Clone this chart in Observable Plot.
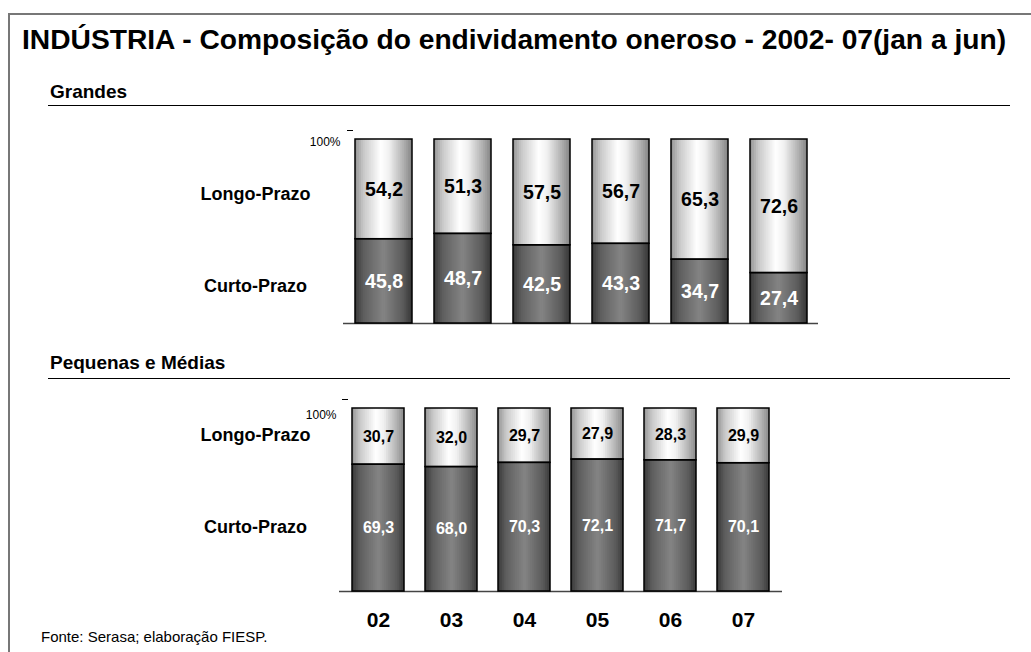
<!DOCTYPE html>
<html><head><meta charset="utf-8">
<script src="https://cdn.jsdelivr.net/npm/d3@7"></script>
<script src="https://cdn.jsdelivr.net/npm/@observablehq/plot@0.6"></script>
<style>
body{margin:0;background:#fff;font-family:"Liberation Sans",Arial,sans-serif;color:#000;}
#page{position:relative;width:1031px;height:652px;overflow:hidden;background:#fff;}
.abs{position:absolute;white-space:nowrap;line-height:1;}
.plot{position:absolute;left:0;}
</style></head><body>
<div id="page">
  <div class="abs" style="left:8px;top:13px;width:1100px;height:700px;border-top:2px solid #777;border-left:2px solid #777;"></div>
  <div class="abs" style="left:22px;top:25px;font-size:28.2px;font-weight:bold;">INDÚSTRIA - Composição do endividamento oneroso - 2002- 07(jan a jun)</div>
  <div class="abs" style="left:50px;top:82px;font-size:19px;font-weight:bold;">Grandes</div>
  <div class="abs" style="left:48px;top:105px;width:962px;height:1px;background:#000;"></div>
  <div class="abs" style="left:50px;top:353px;font-size:19px;font-weight:bold;">Pequenas e Médias</div>
  <div class="abs" style="left:48px;top:378px;width:962px;height:1px;background:#000;"></div>
  <div class="abs" style="left:41px;top:629px;font-size:15px;">Fonte: Serasa; elaboração FIESP.</div>
  <div id="p1" class="plot" style="top:110px"></div>
  <div id="p2" class="plot" style="top:380px"></div>
</div>
<script>
const years = ["02","03","04","05","06","07"];
const grandesCurto = [45.8,48.7,42.5,43.3,34.7,27.4];
const grandesLongo = [54.2,51.3,57.5,56.7,65.3,72.6];
const pmCurto = [69.3,68.0,70.3,72.1,71.7,70.1];
const pmLongo = [30.7,32.0,29.7,27.9,28.3,29.9];
const rowLabels = ["Longo-Prazo","Curto-Prazo"];
const topTick = [100];

const fmt = v => v.toFixed(1).replace(".", ",");

// horizontal shading of the bars (style)
const lightShade = d3.scaleLinear().domain([0, 0.15, 0.45, 0.6, 0.85, 1])
  .range(["#959595", "#c8c8c8", "#ffffff", "#f0f0f0", "#b0b0b0", "#858585"]);
const darkShade = d3.scaleLinear().domain([0, 0.15, 0.5, 0.85, 1])
  .range(["#383838", "#5e5e5e", "#848484", "#5a5a5a", "#363636"]);
const SLICES = 28;

function rows(curto, longo) {
  return years.flatMap((y, i) => [
    {year: y, tipo: "curto", lo: 0, hi: curto[i], v: curto[i]},
    {year: y, tipo: "longo", lo: curto[i], hi: curto[i] + longo[i], v: longo[i]}
  ]);
}

// each slice runs to the right edge; later slices cover earlier ones (no seams)
function shadedBars(data, shade, bw) {
  const out = [];
  for (let k = 0; k < SLICES; k++) {
    const insetLeft = bw * k / SLICES;
    out.push(Plot.barY(data, {x: "year", y1: "lo", y2: "hi", insetLeft, insetRight: 0, fill: shade((k + 0.5) / SLICES)}));
  }
  return out;
}

function panel(o) {
  const data = rows(o.curto, o.longo);
  const dc = data.filter(d => d.tipo === "curto");
  const dl = data.filter(d => d.tipo === "longo");
  const bw = d3.scaleBand().domain(years).range([o.marginLeft, 1031 - o.marginRight])
    .paddingInner(o.paddingInner).paddingOuter(o.paddingOuter).bandwidth();
  const lab = [
    {t: rowLabels[0], y: 100 - d3.mean(o.longo) / 2},
    {t: rowLabels[1], y: d3.mean(o.curto) / 2}
  ];
  const marks = [
    Plot.ruleY([0], {stroke: "#444", strokeWidth: 1.5}),
    ...shadedBars(dc, darkShade, bw),
    ...shadedBars(dl, lightShade, bw),
    Plot.barY(data, {x: "year", y1: "lo", y2: "hi", fill: "none", stroke: "#000", strokeWidth: 1.5}),
    Plot.text(dc, {x: "year", y: d => (d.lo + d.hi) / 2, text: d => fmt(d.v), fill: "white", fontSize: o.valueSize, fontWeight: "bold"}),
    Plot.text(dl, {x: "year", y: d => (d.lo + d.hi) / 2, text: d => fmt(d.v), fill: "black", fontSize: o.valueSize, fontWeight: "bold"}),
    Plot.text(lab, {y: "y", text: "t", frameAnchor: "left", dx: o.labelDx, textAnchor: "middle", fontSize: 18, fontWeight: "bold", fill: "black"}),
    Plot.axisY({ticks: topTick, tickSize: 0, tickPadding: 3, tickFormat: d => d + "%", dy: o.pctDy, fontSize: 12, fill: "black"}),
    Plot.axisY({ticks: topTick, tickSize: 6, tickFormat: () => "", dx: o.dashDx, dy: -9, stroke: "black"})
  ];
  if (o.showYears) marks.push(Plot.axisX({tickSize: 0, tickPadding: 21, fontSize: 21, fontWeight: "bold", fill: "black", label: null}));
  return Plot.plot({
    width: 1031,
    height: o.height,
    marginTop: o.marginTop,
    marginBottom: o.marginBottom,
    marginLeft: o.marginLeft,
    marginRight: o.marginRight,
    x: {domain: years, paddingInner: o.paddingInner, paddingOuter: o.paddingOuter, label: null, axis: o.showYears ? undefined : null},
    y: {domain: [0, 100], label: null},
    style: {fontFamily: "'Liberation Sans', Arial, sans-serif", background: "transparent", color: "black", overflow: "visible"},
    marks
  });
}

document.getElementById("p1").append(panel({
  curto: grandesCurto, longo: grandesLongo,
  height: 230, marginTop: 29, marginBottom: 17, marginLeft: 343, marginRight: 213,
  paddingInner: 0.28, paddingOuter: 0.145, valueSize: 19.5, labelDx: -88, pctDy: 3, dashDx: 10, showYears: false
}));
document.getElementById("p2").append(panel({
  curto: pmCurto, longo: pmLongo,
  height: 272, marginTop: 28, marginBottom: 61, marginLeft: 339, marginRight: 249,
  paddingInner: 0.284, paddingOuter: 0.142, valueSize: 16, labelDx: -84, pctDy: 7, dashDx: 9, showYears: true
}));
</script>
</body></html>
